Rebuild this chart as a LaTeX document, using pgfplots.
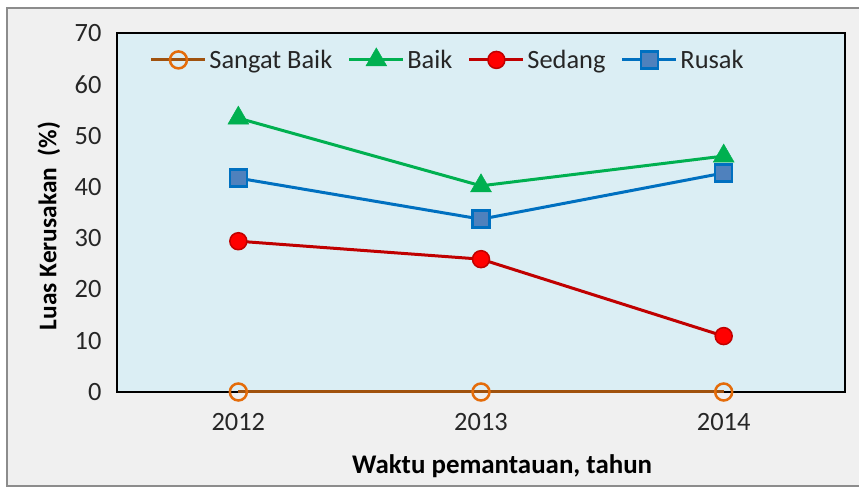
\documentclass[border=0pt]{standalone}
\usepackage{fontspec}
\setmainfont{Carlito}
\usepackage{pgfplots}
\pgfplotsset{compat=1.18}
\definecolor{plotbg}{HTML}{DBEEF4}
\definecolor{framebg}{HTML}{F0F0F0}
\definecolor{framebd}{HTML}{8C8C8C}
\definecolor{sbline}{HTML}{A0520E}
\definecolor{sbmark}{HTML}{E46C0A}
\definecolor{baik}{HTML}{00B050}
\definecolor{sedline}{HTML}{C00000}
\definecolor{sedfill}{HTML}{FF0000}
\definecolor{rusline}{HTML}{0070C0}
\definecolor{rusfill}{HTML}{4F81BD}
\definecolor{txt}{HTML}{262626}
\begin{document}
\begin{tikzpicture}[x=1bp,y=1bp]
\useasboundingbox (0,0) rectangle (859,487);
\begin{scope}
\clip (0,0) rectangle (859,487);
\fill[white] (0,0) rectangle (859,487);
\draw[fill=framebg, draw=framebd, line width=2bp] (7,1) rectangle (875,479);
\end{scope}
\begin{axis}[
  at={(117bp,95bp)}, anchor=south west,
  scale only axis, width=728bp, height=359bp,
  xmin=-0.5, xmax=2.5, ymin=0, ymax=70,
  xtick={0,1,2}, xticklabels={2012,2013,2014},
  ytick={0,10,...,70},
  major tick length=0pt,
  axis background/.style={fill=plotbg},
  axis line style={black, line width=1.6bp},
  clip=false,
  /pgf/number format/assume math mode=true,
  tick label style={font=\fontsize{26.5}{31}\selectfont, text=txt},
  yticklabel style={xshift=-12bp},
  xticklabel style={yshift=-18bp},
  xlabel={Waktu pemantauan, tahun},
  ylabel={Luas Kerusakan~~(\%)},
  label style={text=black},
  xlabel style={font=\bfseries\fontsize{27}{32}\selectfont, at={(axis description cs:0.529,-0.206)}, anchor=center},
  ylabel style={font=\bfseries\fontsize{25.5}{30}\selectfont, at={(axis description cs:-0.0935,0.462)}, anchor=center},
  legend style={draw=none, fill=none, legend columns=4,
    font=\fontsize{26.5}{31}\selectfont, text=txt,
    at={(0.045,0.925)}, anchor=west, inner sep=0pt,
    nodes={inner sep=2.5bp},
    /tikz/every even column/.append style={column sep=13bp}},
  legend image code/.code={\draw[mark repeat=2,mark phase=2] plot coordinates {(0bp,0bp) (27bp,0bp) (54bp,0bp)};},
  every axis plot/.append style={line width=3bp},
]
\addplot[color=sbline, mark=o, mark size=8.5bp, mark options={draw=sbmark, line width=2.5bp, fill=none}]
  coordinates {(0,0) (1,0) (2,0)};
\addlegendentry{Sangat Baik}
\addplot[color=baik, mark=triangle*, mark size=12bp, mark options={fill=baik, draw=baik, line width=0.5bp}]
  coordinates {(0,53.4) (1,40.2) (2,46.0)};
\addlegendentry{Baik}
\addplot[color=sedline, mark=*, mark size=8.5bp, mark options={fill=sedfill, draw=sedline, line width=1.5bp}]
  coordinates {(0,29.4) (1,25.9) (2,10.9)};
\addlegendentry{Sedang}
\addplot[color=rusline, mark=square*, mark size=8.5bp, mark options={fill=rusfill, draw=rusline, line width=2.5bp}]
  coordinates {(0,41.7) (1,33.7) (2,42.7)};
\addlegendentry{Rusak}
\end{axis}
\end{tikzpicture}
\end{document}
